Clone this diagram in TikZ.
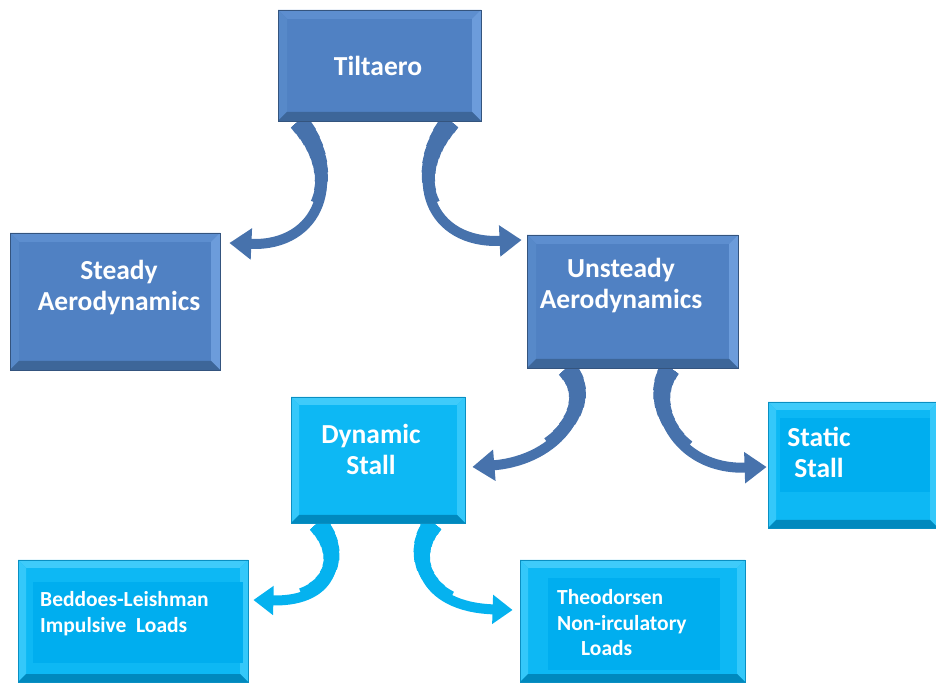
\documentclass[tikz,border=0pt]{standalone}
\usepackage{fontspec}
\setmainfont{Carlito}
\usetikzlibrary{calc, arrows.meta, backgrounds}

\definecolor{boxBlue}{HTML}{5081C3}
\definecolor{boxBlueTop}{HTML}{5D8ECF}
\definecolor{boxBlueLeft}{HTML}{5789C9}
\definecolor{boxBlueSide}{HTML}{6C9CDB}
\definecolor{boxBlueBot}{HTML}{3D6699}
\definecolor{boxBlueEdge}{HTML}{34547E}
\definecolor{arrowBlue}{HTML}{4772AC}
\definecolor{boxCyan}{HTML}{0DB8F4}
\definecolor{boxCyanTop}{HTML}{3FCBFA}
\definecolor{boxCyanSide}{HTML}{34C8FA}
\definecolor{boxCyanBot}{HTML}{0089BE}
\definecolor{boxCyanEdge}{HTML}{0A8FC2}
\definecolor{areaCyan}{HTML}{00AEEF}
\definecolor{arrowCyan}{HTML}{05B2EF}

\tikzset{
  bevel/.style n args={5}{path picture={
      \coordinate (bnw) at (path picture bounding box.north west);
      \coordinate (bne) at (path picture bounding box.north east);
      \coordinate (bsw) at (path picture bounding box.south west);
      \coordinate (bse) at (path picture bounding box.south east);
      \fill[#1] (bnw) -- (bne) -- ($(bne)+(-#5,-#5)$) -- ($(bnw)+(#5,-#5)$) -- cycle;
      \fill[#2] (bnw) -- (bsw) -- ($(bsw)+(#5,#5)$) -- ($(bnw)+(#5,-#5)$) -- cycle;
      \fill[#3] (bne) -- (bse) -- ($(bse)+(-#5,#5)$) -- ($(bne)+(-#5,-#5)$) -- cycle;
      \fill[#4] (bsw) -- (bse) -- ($(bse)+(-#5,#5)$) -- ($(bsw)+(#5,#5)$) -- cycle;
    }},
  bluebox/.style={draw=boxBlueEdge, line width=0.8pt, fill=boxBlue,
    bevel={boxBlueTop}{boxBlueLeft}{boxBlueSide}{boxBlueBot}{9}},
  cyanbox/.style={draw=boxCyanEdge, line width=0.8pt, fill=boxCyan,
    bevel={boxCyanTop}{boxCyanSide}{boxCyanSide}{boxCyanBot}{8}},
  bigtext/.style={text=white, font=\bfseries\fontsize{27.5}{31}\selectfont, align=center, inner sep=0pt},
  smalltext/.style={text=white, font=\bfseries\fontsize{21.5}{25.5}\selectfont, align=left, inner sep=0pt, anchor=west},
  % wider start of a curved arrow
  taper/.style n args={3}{preaction={draw=#3, arrows=-, line width=#1, dash pattern=on #2 off 3000pt}},
  curvy/.style={taper={20pt}{8pt}{#1}, taper={19pt}{16pt}{#1}, taper={18pt}{24pt}{#1},
    taper={17pt}{32pt}{#1}, taper={16pt}{40pt}{#1}, taper={15pt}{48pt}{#1},
    taper={14pt}{57pt}{#1}, taper={13pt}{66pt}{#1}, taper={12pt}{76pt}{#1},
    taper={11pt}{88pt}{#1}},
  bluearrow/.style={draw=arrowBlue, curvy=arrowBlue, line width=10pt, -{Triangle[width=30pt,length=22pt]}},
  cyanarrow/.style={draw=arrowCyan, curvy=arrowCyan, line width=10pt, -{Triangle[width=28pt,length=20pt]}},
}

\begin{document}
\begin{tikzpicture}[x=1pt, y=1pt]
  \useasboundingbox (0,0) rectangle (936,682);

  % top level
  \node[bluebox, minimum width=203, minimum height=111] (tilt) at (379.5,616.5) {};
  \node[bigtext] (tiltTxt) at (378,616) {Tiltaero};

  % aerodynamics
  \node[bluebox, minimum width=210, minimum height=137] (steady) at (115,380.5) {};
  \node[bigtext] (steadyTxt) at (119,394.5) {Steady\\Aerodynamics};
  \node[bluebox, minimum width=211, minimum height=133] (unsteady) at (632.5,380.5) {};
  \node[bigtext] (unsteadyTxt) at (621,396) {Unsteady\\Aerodynamics};

  % stall
  \node[cyanbox, minimum width=174, minimum height=126] (dynamic) at (378,222) {};
  \node[bigtext] (dynamicTxt) at (371,233) {Dynamic\\Stall};
  \node[cyanbox, minimum width=170, minimum height=126] (static) at (853,217) {};
  \fill[areaCyan] ($(static.south west)+(12,36)$) rectangle ($(static.north east)+(-8,-16)$);
  \node[bigtext] (staticTxt) at (819,230) {Static\\Stall};

  % loads
  \node[cyanbox, minimum width=230, minimum height=122] (beddoes) at (133,61) {};
  \fill[areaCyan] ($(beddoes.south west)+(15,19)$) rectangle ($(beddoes.north east)+(-5,-22)$);
  \node[smalltext] (beddoesTxt) at (40,68.5) {Beddoes-Leishman\\Impulsive\ \ Loads};
  \node[cyanbox, minimum width=225, minimum height=122] (theo) at (632.5,61) {};
  \fill[areaCyan] ($(theo.south west)+(28,12)$) rectangle ($(theo.north east)+(-25,-18)$);
  \node[smalltext] (theoTxt) at (557,59) {Theodorsen\\Non-irculatory\\\hspace*{24pt}Loads};

  \begin{scope}[on background layer]
    \draw[bluearrow] ($(tilt.south west)+(21,0)$) .. controls +(46,-55) and +(91,-4) .. ($(steady.east)+(9,58.5)$);
    \draw[bluearrow] ($(tilt.south east)+(-31,0)$) .. controls +(-45,-56) and +(-92,-4) .. ($(unsteady.west)+(-5,61.5)$);
    \draw[bluearrow] ($(unsteady.south west)+(40,0)$) .. controls +(31,-34) and +(88,7) .. ($(dynamic.east)+(7,-7)$);
    \draw[bluearrow] ($(unsteady.south east)+(-68,0)$) .. controls +(-25,-34) and +(-92,-3) .. ($(static.west)+(-1,-2)$);
    \draw[cyanarrow] ($(dynamic.south west)+(27,0)$) .. controls +(27,-31) and +(83,-2) .. ($(beddoes.east)+(5,21)$);
    \draw[cyanarrow] ($(dynamic.south east)+(-32,0)$) .. controls +(-25,-31) and +(-93,3) .. ($(theo.west)+(-7,11)$);
  \end{scope}
\end{tikzpicture}
\end{document}
